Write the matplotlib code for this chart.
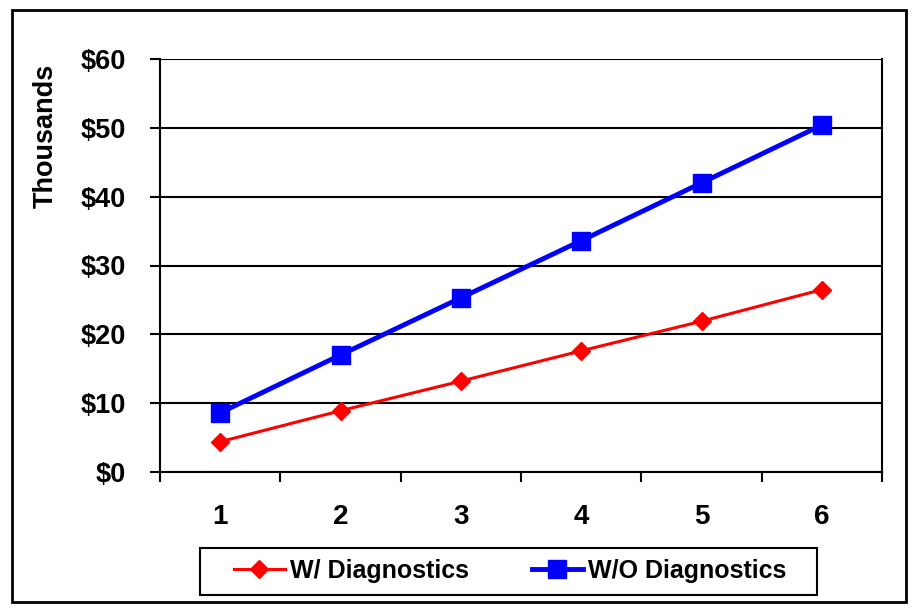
import numpy as np
import matplotlib
matplotlib.use("Agg")
import matplotlib.pyplot as plt
from matplotlib.patches import Rectangle

plt.rcParams['font.family'] = ['Liberation Sans', 'DejaVu Sans']
plt.rcParams['font.weight'] = 'bold'

# data (thousands of dollars)
years = [1, 2, 3, 4, 5, 6]
with_diag = [4.4, 8.9, 13.2, 17.6, 21.9, 26.5]
without_diag = [8.6, 17.0, 25.3, 33.6, 42.0, 50.4]
yticks = [0, 10, 20, 30, 40, 50, 60]
ytick_labels = ["$%d" % v for v in yticks]

fig = plt.figure(figsize=(9.18, 6.15), dpi=100)
ax = fig.add_axes([160 / 918, 1 - 472 / 615, 722 / 918, 413 / 615])

ax.plot(years, with_diag, color="#ff0000", linewidth=2.2, marker="D",
        markersize=9.5, label="W/ Diagnostics", zorder=3)
ax.plot(years, without_diag, color="#0000ff", linewidth=3.5, marker="s",
        markersize=13.5, label="W/O Diagnostics", zorder=4)

ax.set_xlim(0.5, 6.5)
ax.set_ylim(0, 60)
ax.set_yticks(yticks)
ax.set_yticklabels(ytick_labels, fontsize=19.5, fontweight="bold")
ax.set_xticks(years)
ax.set_xticklabels([str(y) for y in years], fontsize=20, fontweight="bold")
ax.set_xticks(np.arange(0.5, 7, 1.0), minor=True)
ax.tick_params(axis="x", which="major", length=0, pad=23)
ax.tick_params(axis="x", which="minor", length=7.5, width=1.5, direction="out")
ax.tick_params(axis="y", length=7.5, width=1.5, direction="out", pad=17)

ax.grid(axis="y", color="black", linewidth=1.5)
for s in ["left", "bottom", "right", "top"]:
    ax.spines[s].set_linewidth(1.5)
ax.spines["top"].set_visible(False)

ax.set_ylabel("Thousands", fontsize=19.5, fontweight="bold")
ax.yaxis.set_label_coords(-0.14, 0.815)

# legend entries without frame, box drawn separately
leg = fig.legend(loc="center", bbox_to_anchor=(510 / 918, 1 - 571 / 615),
                 ncol=2, fontsize=18, frameon=False,
                 columnspacing=2.5, handlelength=2.05, handletextpad=0.2,
                 borderpad=0, borderaxespad=0)
for t in leg.get_texts():
    t.set_fontweight("bold")
fig.patches.append(Rectangle((200 / 918, 1 - 595 / 615), 617 / 918, 47 / 615,
                             transform=fig.transFigure, fill=False,
                             edgecolor="black", linewidth=1.5))

# outer frame
fig.patches.append(Rectangle((12 / 918, 1 - 602 / 615), 894 / 918, 592 / 615,
                             transform=fig.transFigure, fill=False,
                             edgecolor="black", linewidth=2.0))

fig.savefig("out.png", dpi=100)
